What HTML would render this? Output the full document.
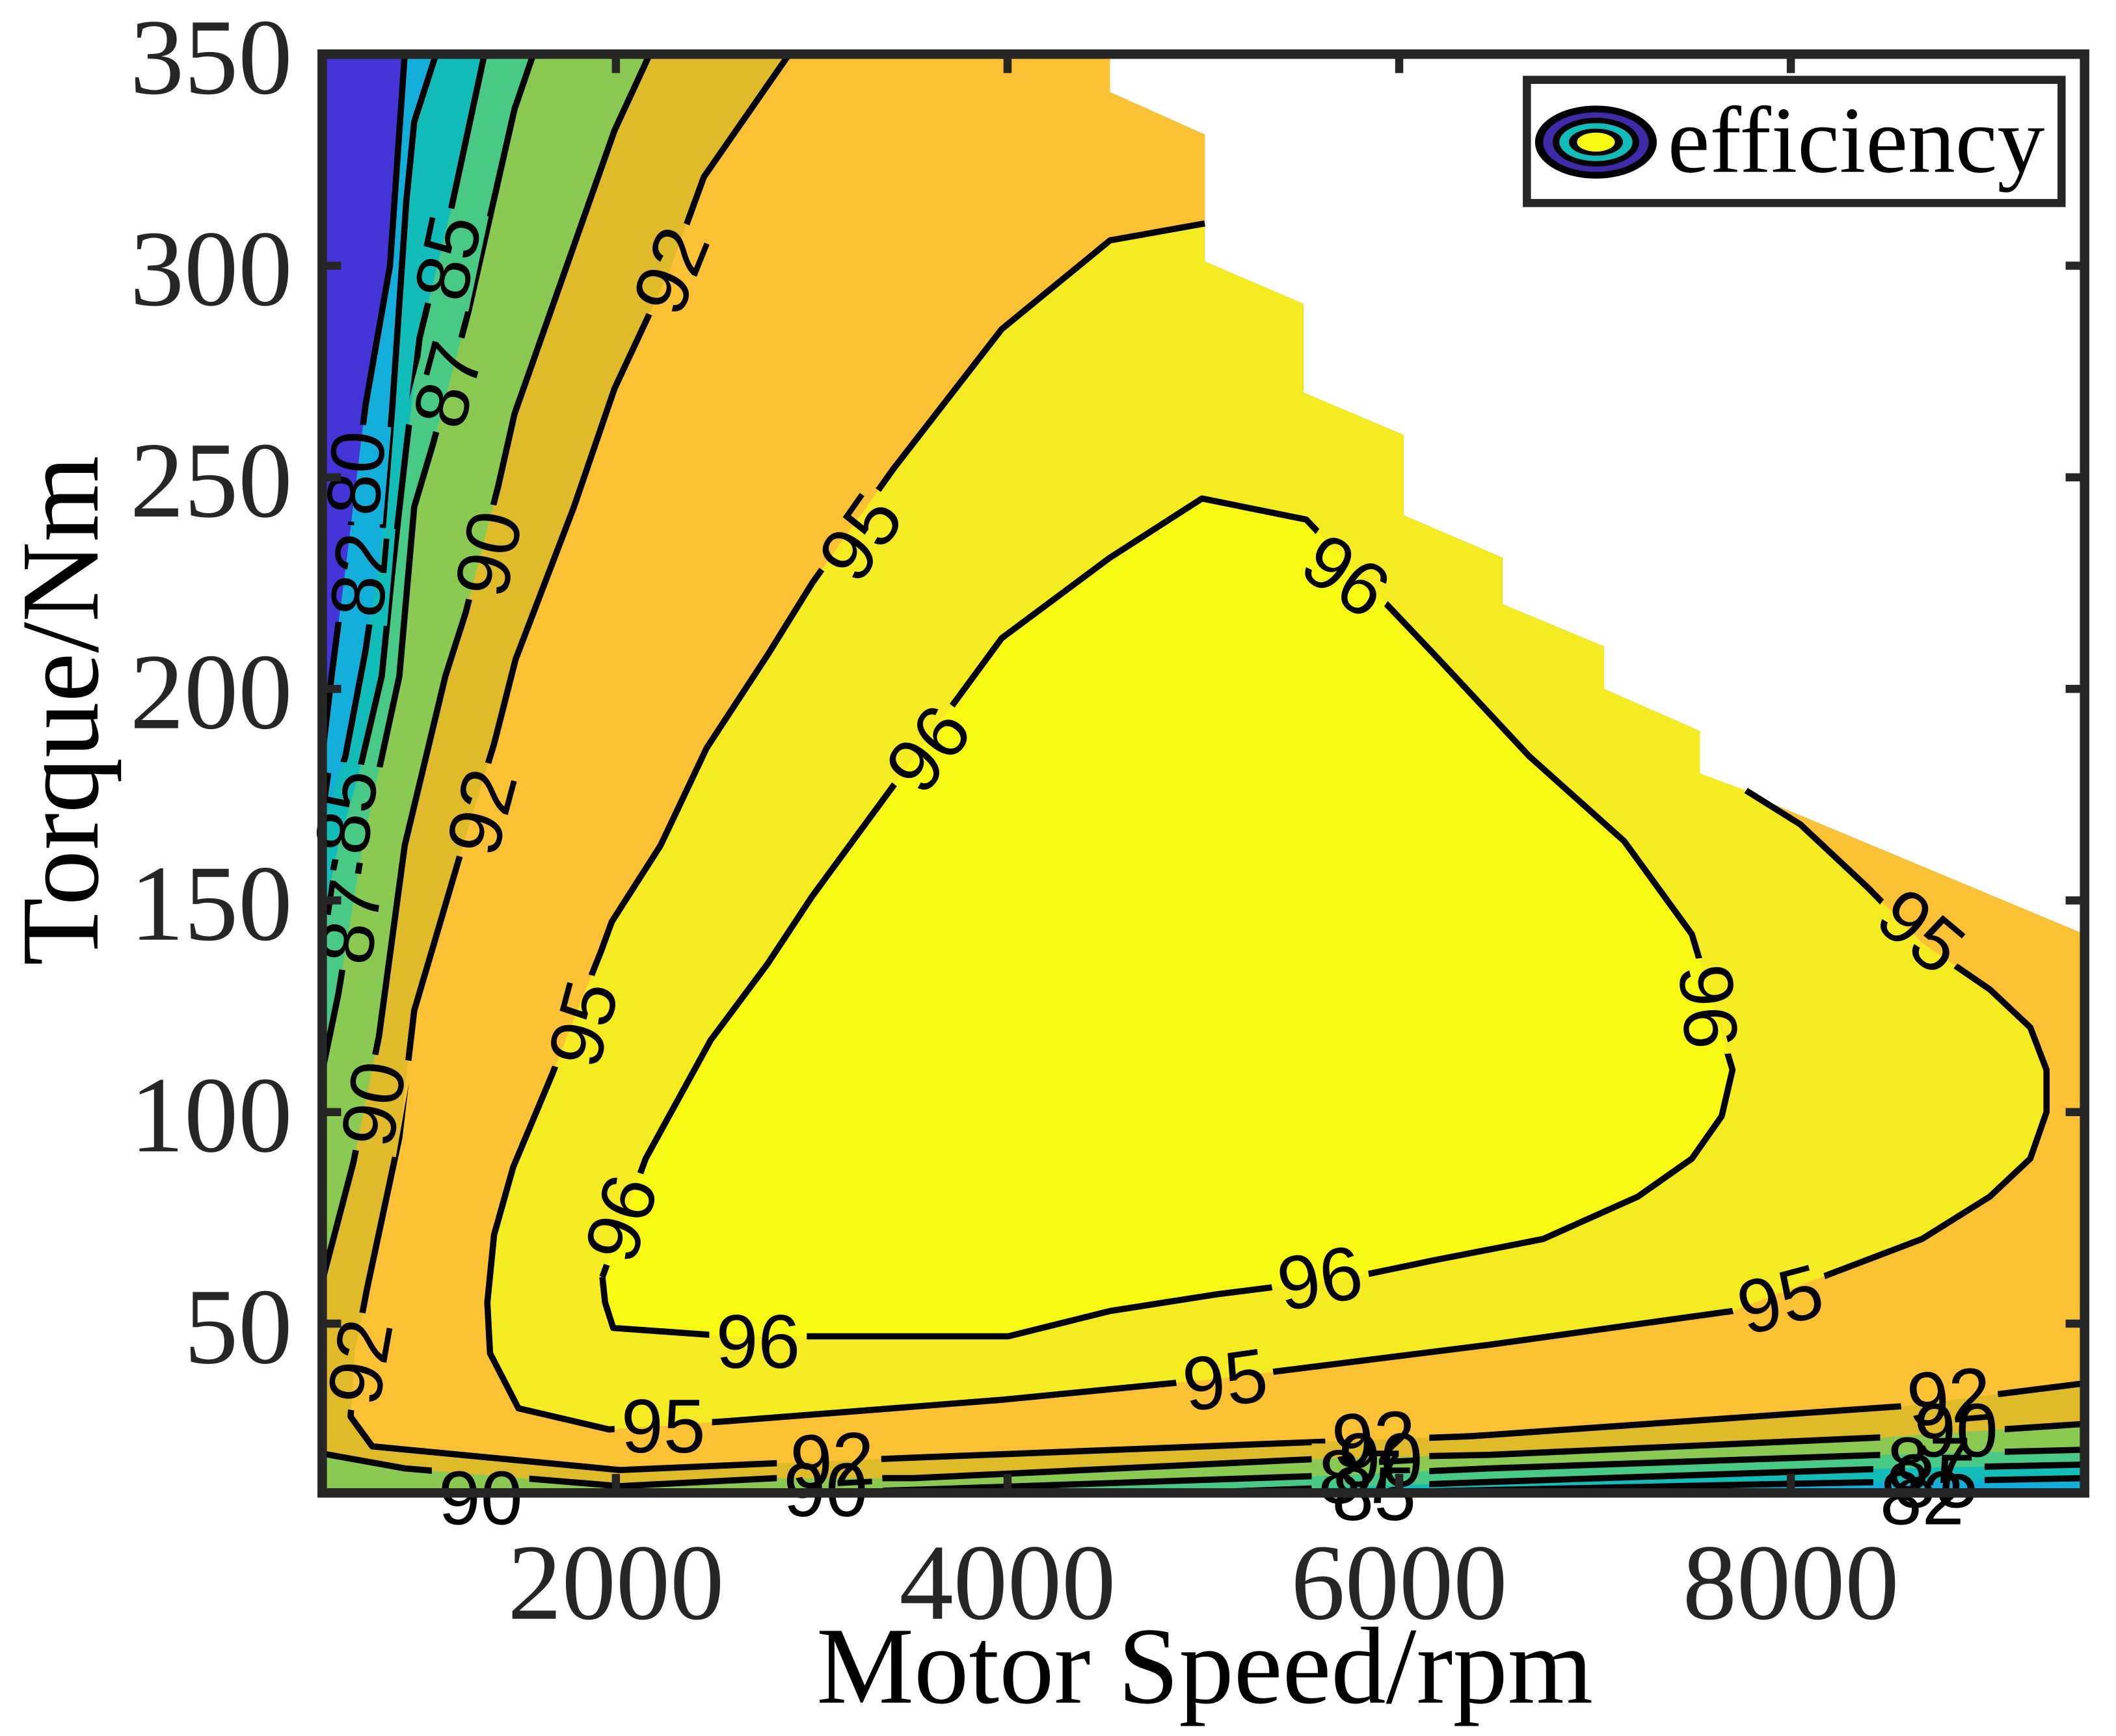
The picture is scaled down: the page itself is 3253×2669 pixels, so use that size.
<!DOCTYPE html>
<html><head><meta charset="utf-8"><style>
html,body{margin:0;padding:0;background:#fff;}
svg{display:block;}
</style></head><body>
<svg id="chart" xmlns="http://www.w3.org/2000/svg" width="3253" height="2669" viewBox="0 0 1563.2 1282.6">
<defs>
<clipPath id="plotclip"><rect x="238" y="40" width="1302" height="1063"/></clipPath>
<mask id="labelmask" maskUnits="userSpaceOnUse" x="0" y="0" width="1563.2" height="1282.6"><rect x="0" y="0" width="1563.2" height="1282.6" fill="#fff"/><g id="maskholes"></g></mask>
</defs>
<rect x="0" y="0" width="1563.2" height="1282.6" fill="#fff"/>
<g id="fills" clip-path="url(#plotclip)"></g>
<g clip-path="url(#plotclip)"><g id="lines" mask="url(#labelmask)"></g></g>
<g id="labels"></g>
<g id="axes"></g>
<text x="890" y="1258" text-anchor="middle" font-family="Liberation Serif, serif" font-size="81" fill="#000">Motor Speed/rpm</text>
<text transform="translate(72,525) rotate(-90)" text-anchor="middle" font-family="Liberation Serif, serif" font-size="82" fill="#000">Torque/Nm</text>
<g>
<rect x="1128" y="59" width="395" height="91" fill="#fff" stroke="#262626" stroke-width="6"/>
<g>
<ellipse cx="1179" cy="105" rx="45" ry="27" fill="#000"/>
<ellipse cx="1179" cy="105" rx="39" ry="22" fill="#3f2aa8"/>
<ellipse cx="1179" cy="105" rx="32" ry="18" fill="#000"/>
<ellipse cx="1179" cy="105" rx="27" ry="14" fill="#12bdb9"/>
<ellipse cx="1179" cy="105" rx="20" ry="10" fill="#000"/>
<ellipse cx="1179" cy="105" rx="14" ry="7" fill="#f9fa14"/>
</g>
<text x="1232" y="127" font-family="Liberation Serif, serif" font-size="70" fill="#000">efficiency</text>
</g>
</svg>
<script>
const rpmMin = 500, rpmMax = 9500, tMin = 10, tMax = 350;
const xTicks = [2000, 4000, 6000, 8000];
const yTicks = [50, 100, 150, 200, 250, 300, 350];
const levels = [80, 82, 85, 87, 90, 92, 95, 96];
const levelColors = ['#14aedb', '#12bdb9', '#48c986', '#8aca52', '#dfbb2c', '#fdc136', '#f4eb22', '#f9fa14'];
const belowColor = '#4535d8';
const domainBoundary = [[500,350],[4523,350],[4523,341],[5007,331],[5007,301],[5511,291],[5511,270],[6023,260],[6023,241],[6527,231],[6527,220],[7046,210],[7046,200],[7536,190],[7536,180],[9500,142],[9500,10],[500,10]];
const line80Left = [[922,350],[846,300],[721,267],[618,228],[548,203],[500,184]];
const line80Bottom = [[9500,10]];
const line82Left = [[1081,350],[970,334],[929,315],[859,267],[804,235],[721,209],[618,184],[500,168]];
const line82Bottom = [[5767,10],[7840,12],[9500,13.5]];
const line85Left = [[1329,350],[1157,313],[998,283],[929,257],[859,228],[804,203],[687,180],[583,163],[500,145]];
const line85Bottom = [[4938,10],[6458,12.6],[8532,15.8],[9500,16.7]];
const line87Left = [[1578,350],[1482,337],[1246,289],[1067,258],[970,243],[894,203],[707,163],[583,128],[507,111]];
const line87Bottom = [[3002,10],[3693,11],[5698,14.2],[6458,15.8],[8463,19],[9500,20.2]];
const line90Left = [[2173,350],[1993,332],[1482,265],[1399,248],[1233,218],[1129,203],[922,163],[790,118],[659,88],[500,60]];
const line90Bottom = [[500,19.3],[922,15.8],[2021,11.6],[2816,13.5],[3521,13.5],[5698,18.3],[6458,19],[8463,23.1],[9500,26.3]];
const line92 = [[2885,350],[2449,321],[2276,299],[1993,271],[1786,243],[1488,207],[1378,187],[1219,163],[970,124],[894,94],[728,58],[666,43],[645,28],[756,21],[2021,15.4],[2816,17],[3493,18.3],[5663,22.2],[6368,23.4],[8573,30.5],[9500,35.9]];
const line95 = [[5007,310],[4523,306],[3970,285],[3417,252],[3002,225],[2774,208],[2463,186],[2228,163],[1979,145],[1924,138],[1675,109],[1475,87],[1378,71],[1343,55],[1357,43],[1502,30],[1965,25],[2587,27],[3970,32],[5076,37],[6458,45],[7702,53],[8670,70],[9016,80],[9223,89],[9306,100],[9306,110],[9223,120],[9016,129],[8670,140],[8394,153],[8048,168],[7771,176]];
const line96 = [[1931,61],[2152,89],[2484,117],[2774,135],[3002,151],[3970,212],[4523,231],[4993,245],[5525,240],[6182,208],[6666,184],[7149,164],[7495,142],[7702,110],[7647,99],[7495,89],[7219,80],[6735,70],[6182,65],[5767,61],[5076,57],[4523,53],[4004,47],[3279,47],[2587,47],[1986,49],[1945,55],[1931,61]];
const labelTexts = ['92','85','87','80','82','90','95','96','96','92','85','87','95','96','95','90','96','96','95','92','96','95','95','92','90','90','92','90','87','85','92','90','87','85','82'];
const labelRpm = [2276,1136,1136,666,687,1343,3244,5732,3590,1309,618,638,8670,7585,1827,756,2021,5594,7944,687,2726,5110,2242,3106,1309,3071,5871,5905,5802,5871,8808,8843,8705,8740,8670];
const labelTorque = [299,302,272,251,227,232,236,227,186,171,171,145,143,125,121,102,75,61,56,41,46,37,26,18,9,11,23,18,14,10,33,25,17,13,9];
const labelAngle = [-68,-78,-75,-85,-85,-78,-55,35,-52,-75,-82,-82,40,85,-75,-80,-72,-10,-15,-80,0,-8,0,-3,0,0,-3,0,0,0,-5,0,0,0,0];

const NS = 'http://www.w3.org/2000/svg';
const X = r => 238 + (r - rpmMin) / (rpmMax - rpmMin) * 1302;
const Y = t => 1103 - (t - tMin) / (tMax - tMin) * 1063;
const pts = arr => arr.map(p => X(p[0]).toFixed(1) + ',' + Y(p[1]).toFixed(1)).join(' ');
const domainTop = domainBoundary.slice(0, 16);

function regionFromLines(left, bottom) {
  let p = left.slice();
  const last = left[left.length - 1];
  if (last[0] <= 510 && bottom[0][1] <= 10.01) p.push([500, 10]);
  p = p.concat(bottom);
  return p.concat(domainTop.slice().reverse());
}
const fills = document.getElementById('fills');
const linesG = document.getElementById('lines');

function addPoly(points, color, name) {
  const el = document.createElementNS(NS, 'polygon');
  el.setAttribute('points', pts(points));
  el.setAttribute('fill', color);
  
  
  fills.appendChild(el);
}
addPoly(domainBoundary, belowColor, 'region-below-80');
addPoly(regionFromLines(line80Left, line80Bottom), levelColors[0], 'region-80');
addPoly(regionFromLines(line82Left, line82Bottom), levelColors[1], 'region-82');
addPoly(regionFromLines(line85Left, line85Bottom), levelColors[2], 'region-85');
addPoly(regionFromLines(line87Left, line87Bottom), levelColors[3], 'region-87');
addPoly(regionFromLines(line90Left, line90Bottom), levelColors[4], 'region-90');
addPoly(line92.concat(domainTop.slice().reverse()), levelColors[5], 'region-92');
const steps95 = domainTop.filter(p => p[0] < 7700 && p[0] >= 5007 && p[1] < 305).reverse();
addPoly(line95.concat(steps95), levelColors[6], 'region-95');
addPoly(line96, levelColors[7], 'region-96');

function addLine(points, name) {
  const el = document.createElementNS(NS, 'polyline');
  el.setAttribute('points', pts(points));
  el.setAttribute('fill', 'none');
  el.setAttribute('stroke', '#000');
  el.setAttribute('stroke-width', '4.6');
  el.setAttribute('stroke-linejoin', 'round');
  
  
  linesG.appendChild(el);
}
addLine(line80Left, 'contour-80');
addLine(line82Left, 'contour-82-left');
addLine(line82Bottom, 'contour-82-bottom');
addLine(line85Left, 'contour-85-left');
addLine(line85Bottom, 'contour-85-bottom');
addLine(line87Left, 'contour-87-left');
addLine(line87Bottom, 'contour-87-bottom');
addLine(line90Left, 'contour-90-left');
addLine(line90Bottom, 'contour-90-bottom');
addLine(line92, 'contour-92');
addLine(line95, 'contour-95');
addLine(line96, 'contour-96');

const labelsG = document.getElementById('labels');
const holes = document.getElementById('maskholes');
for (let i = 0; i < labelTexts.length; i++) {
  const x = X(labelRpm[i]), y = Y(labelTorque[i]);
  const tf = 'translate(' + x.toFixed(1) + ',' + y.toFixed(1) + ') rotate(' + labelAngle[i] + ')';
  const hole = document.createElementNS(NS, 'rect');
  hole.setAttribute('x', -36); hole.setAttribute('y', -24);
  hole.setAttribute('width', 72); hole.setAttribute('height', 48);
  hole.setAttribute('transform', tf);
  hole.setAttribute('fill', '#000');
  holes.appendChild(hole);
  const t = document.createElementNS(NS, 'text');
  t.setAttribute('transform', tf);
  t.setAttribute('text-anchor', 'middle');
  t.setAttribute('dy', '0.36em');
  t.setAttribute('font-family', 'Liberation Sans, sans-serif');
  t.setAttribute('font-size', '56');
  t.setAttribute('fill', '#000');
  t.textContent = labelTexts[i];
  
  
  labelsG.appendChild(t);
}

const axes = document.getElementById('axes');
const box = document.createElementNS(NS, 'rect');
box.setAttribute('x', 238); box.setAttribute('y', 40);
box.setAttribute('width', 1302); box.setAttribute('height', 1063);
box.setAttribute('fill', 'none'); box.setAttribute('stroke', '#262626'); box.setAttribute('stroke-width', '7');


axes.appendChild(box);
function tick(x1, y1, x2, y2, name) {
  const l = document.createElementNS(NS, 'line');
  l.setAttribute('x1', x1); l.setAttribute('y1', y1); l.setAttribute('x2', x2); l.setAttribute('y2', y2);
  l.setAttribute('stroke', '#262626'); l.setAttribute('stroke-width', '6');
  
  
  axes.appendChild(l);
}
function label(x, y, txt, anchor, name) {
  const t = document.createElementNS(NS, 'text');
  t.setAttribute('x', x); t.setAttribute('y', y);
  t.setAttribute('text-anchor', anchor);
  t.setAttribute('font-family', 'Liberation Serif, serif');
  t.setAttribute('font-size', '80');
  t.setAttribute('fill', '#262626');
  t.textContent = txt;
  
  
  axes.appendChild(t);
}
xTicks.forEach(v => {
  const x = X(v);
  tick(x, 1103, x, 1089, 'x-tick');
  tick(x, 40, x, 54, 'x-tick-top');
  label(x, 1196, String(v), 'middle', 'x-tick-label');
});
yTicks.forEach(v => {
  const y = Y(v);
  tick(238, y, 252, y, 'y-tick');
  tick(1540, y, 1526, y, 'y-tick-right');
  label(216, y + 29, String(v), 'end', 'y-tick-label');
});
</script>
</body></html>
